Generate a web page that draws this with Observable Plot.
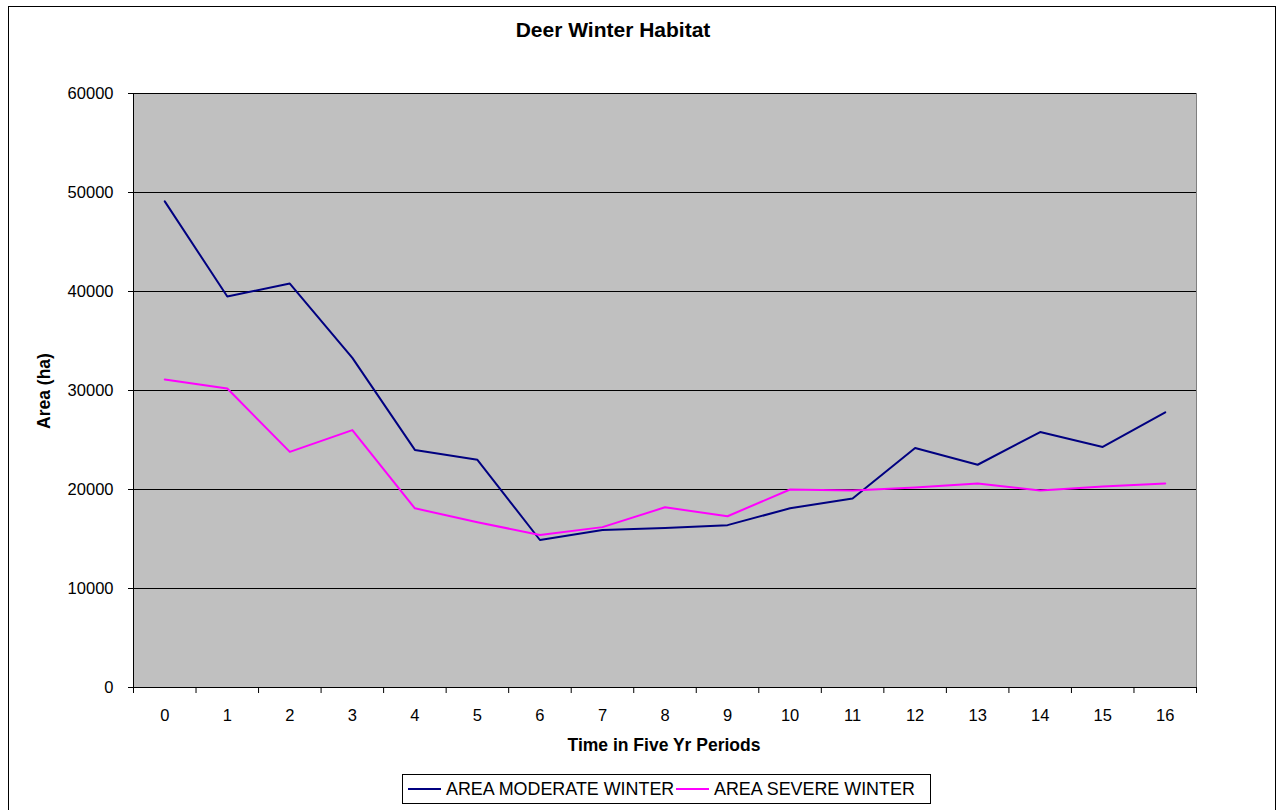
<!DOCTYPE html>
<html><head><meta charset="utf-8">
<script src="https://cdn.jsdelivr.net/npm/d3@7"></script>
<script src="https://cdn.jsdelivr.net/npm/@observablehq/plot@0.6"></script>
<style>
body{margin:0;background:#fff;font-family:"Liberation Sans",Arial,sans-serif;color:#000;}
#wrap{position:relative;width:1281px;height:810px;overflow:hidden;}
#frame{position:absolute;left:8px;top:6px;width:1268px;height:820px;border:1px solid #000;box-sizing:border-box;}
#chart{position:absolute;left:0;top:0;}
#title{position:absolute;left:0;width:1226px;top:18px;line-height:24px;text-align:center;font-weight:bold;font-size:21px;}
#xlabel{position:absolute;left:664px;top:733px;line-height:24px;transform:translateX(-50%);white-space:nowrap;font-weight:bold;font-size:17.5px;}
#ylabel{position:absolute;left:44px;top:391px;line-height:24px;transform:translate(-50%,-50%) rotate(-90deg);white-space:nowrap;font-weight:bold;font-size:17.5px;}
#legend{position:absolute;left:402px;top:774px;width:529px;height:30px;border:1px solid #000;box-sizing:border-box;font-size:17.9px;}
.sw{position:absolute;top:13px;width:33px;height:2px;}
.lt{position:absolute;top:3px;line-height:22px;white-space:nowrap;}
</style>
</head><body>
<div id="wrap">
  <div id="frame"></div>
  <div id="chart"></div>
  <div id="title">Deer Winter Habitat</div>
  <div id="ylabel">Area (ha)</div>
  <div id="xlabel">Time in Five Yr Periods</div>
  <div id="legend"></div>
</div>
<script>
const periods = [0,1,2,3,4,5,6,7,8,9,10,11,12,13,14,15,16];
const moderate = [49100,39500,40800,33300,24000,23000,14900,15900,16100,16400,18100,19100,24200,22500,25800,24300,27800];
const severe = [31100,30200,23800,26000,18100,16700,15400,16200,18200,17300,20000,19900,20200,20600,19900,20300,20600];
const yTicks = [0,10000,20000,30000,40000,50000,60000];
const seriesNames = ["AREA MODERATE WINTER","AREA SEVERE WINTER"];
const seriesColors = ["#000080","#FF00FF"];

const data = periods.flatMap((p,i)=>[
  {period:p, area:moderate[i], series:seriesNames[0]},
  {period:p, area:severe[i], series:seriesNames[1]}
]);
const boundaries = periods.map(p=>p-0.5).concat([periods[periods.length-1]+0.5]);

const chart = Plot.plot({
  width:1281, height:810,
  marginLeft:133, marginRight:85, marginTop:93, marginBottom:123,
  style:{background:"transparent", fontFamily:"'Liberation Sans', Arial, sans-serif", fontSize:"16.5px", color:"#000"},
  x:{type:"linear", domain:[boundaries[0], boundaries[boundaries.length-1]]},
  y:{domain:[yTicks[0], yTicks[yTicks.length-1]]},
  color:{domain:seriesNames, range:seriesColors},
  marks:[
    Plot.frame({fill:"#C0C0C0", stroke:"#808080"}),
    Plot.gridY(yTicks.slice(1), {stroke:"#000", strokeOpacity:1, strokeWidth:1}),
    Plot.ruleX([boundaries[0]], {stroke:"#000"}),
    Plot.ruleY([0], {stroke:"#000"}),
    Plot.axisY(yTicks, {tickSize:5, tickPadding:15, label:null, tickFormat:d=>String(d), stroke:"#000"}),
    Plot.axisX(boundaries, {tickSize:6, tickFormat:()=>"", label:null, stroke:"#000"}),
    Plot.axisX(periods, {tickSize:0, tickPadding:22, label:null, tickFormat:d=>String(d)}),
    Plot.line(data, {x:"period", y:"area", z:"series", stroke:"series", strokeWidth:2})
  ]
});
document.getElementById("chart").appendChild(chart);

const legend = document.getElementById("legend");
const swX = [5, 273], txX = [43, 311];
seriesNames.forEach((n,i)=>{
  const s = document.createElement("div"); s.className="sw"; s.style.left=swX[i]+"px"; s.style.background=seriesColors[i]; legend.appendChild(s);
  const t = document.createElement("div"); t.className="lt"; t.style.left=txX[i]+"px"; t.textContent=n; legend.appendChild(t);
});
</script>
</body></html>
